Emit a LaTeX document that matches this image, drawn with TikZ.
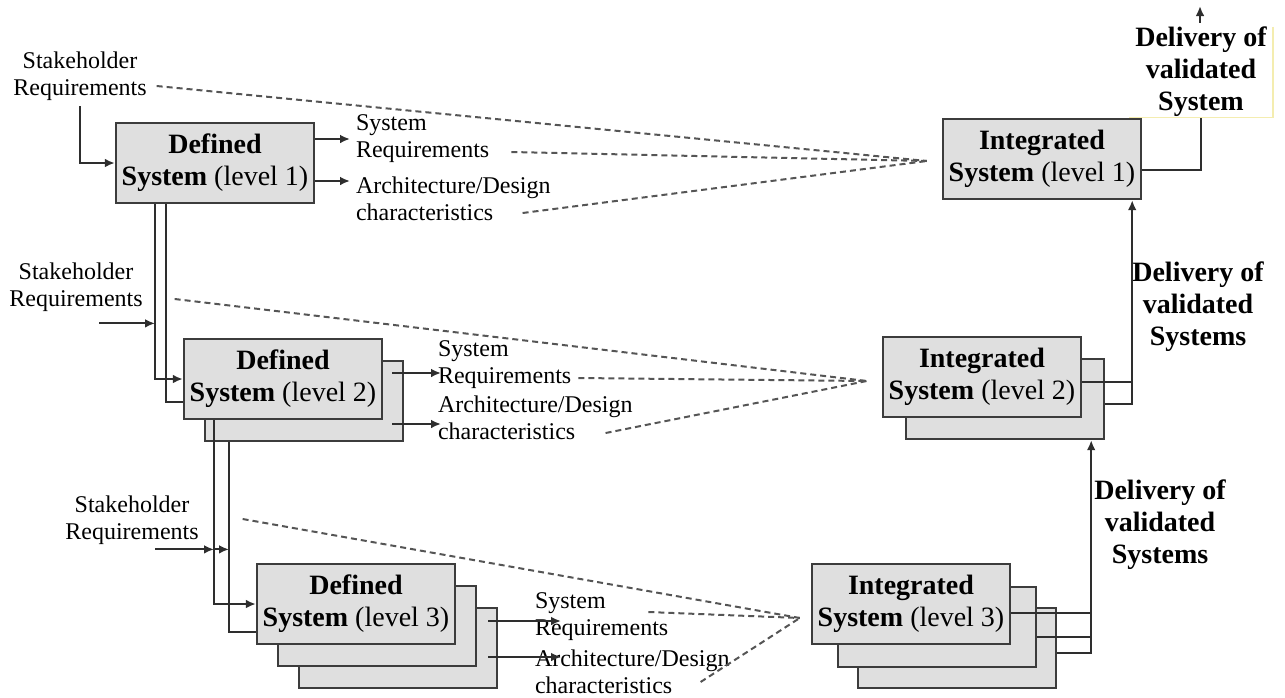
\documentclass[tikz,border=0pt]{standalone}
\usepackage{fontspec}
\setmainfont{Liberation Serif}
\usetikzlibrary{arrows.meta}
\definecolor{boxline}{HTML}{3C3C3C}
\definecolor{linegray}{HTML}{2E2E2E}
\definecolor{dashgray}{HTML}{555555}
\definecolor{paleyellow}{HTML}{F4EDB0}
\newcommand{\boxtxt}[2]{\textbf{#1}\\\textbf{System} (level #2)}
\begin{document}
\begin{tikzpicture}[x=0.5pt,y=-0.5pt,
	sysbox/.style={draw=boxline,fill=gray!25,line width=1.2pt,minimum width=99pt,minimum height=40pt,
		align=center,inner sep=0,font=\fontsize{14}{16}\selectfont},
	txt/.style={inner sep=0,outer sep=3pt,font=\fontsize{12}{13.5}\selectfont},
	dlv/.style={inner sep=0,align=center,font=\fontsize{14}{16}\selectfont\bfseries},
	conn/.style={draw=linegray,line width=1pt},
	arr/.style={conn,-{Latex[length=5pt,width=4.4pt]}},
	trace/.style={draw=dashgray,line width=1pt,dash pattern=on 3pt off 2pt}]
		\useasboundingbox (0,0) rectangle (1285,697);
		% level 1
		\node [txt,align=center] (sr1) at (80,76) {Stakeholder\\Requirements};
		\node [sysbox] (def1) at (215,163) {\boxtxt{Defined}{1}};
		\node [txt,align=left,anchor=west] (sys1) at (350,139) {System\\Requirements};
		\node [txt,align=left,anchor=west] (arc1) at (350,199) {Architecture/Design\\characteristics};
		\node [sysbox] (int1) at (1042,159) {\boxtxt{Integrated}{1}};
		\node [dlv,minimum width=71.5pt,minimum height=43pt] (del1) at (1201,72) {Delivery of\\validated\\System};
		% level 2
		\node [txt,align=center] (sr2) at (76,287) {Stakeholder\\Requirements};
		\node [sysbox] (def2b) at (304,401) {};
		\node [sysbox] (def2) at (283,379) {\boxtxt{Defined}{2}};
		\node [txt,align=left,anchor=west] (sys2) at (432,365) {System\\Requirements};
		\node [txt,align=left,anchor=west] (arc2) at (432,418) {Architecture/Design\\characteristics};
		\node [sysbox] (int2b) at (1005,399) {};
		\node [sysbox] (int2) at (982,377) {\boxtxt{Integrated}{2}};
		\node [dlv] (del2) at (1198,307) {Delivery of\\validated\\Systems};
		% level 3
		\node [txt,align=center] (sr3) at (132,520) {Stakeholder\\Requirements};
		\node [sysbox] (def3c) at (398,648) {};
		\node [sysbox] (def3b) at (377,626) {};
		\node [sysbox] (def3) at (356,604) {\boxtxt{Defined}{3}};
		\node [txt,align=left,anchor=west] (sys3) at (529,617) {System\\Requirements};
		\node [txt,align=left,anchor=west] (arc3) at (529,672) {Architecture/Design\\characteristics};
		\node [sysbox] (int3c) at (957,648) {};
		\node [sysbox] (int3b) at (937,627) {};
		\node [sysbox] (int3) at (911,604) {\boxtxt{Integrated}{3}};
		\node [dlv] (del3) at (1160,525) {Delivery of\\validated\\Systems};

		\coordinate (cv1) at ([shift={(-15,2)}]int1.west);
		\coordinate (cv2) at ([shift={(-15,4)}]int2.west);
		\coordinate (cv3) at ([shift={(-11,14)}]int3.west);
		\draw [trace] ([shift={(4,10)}]sr1.east) -- (cv1);
		\draw [trace] ([shift={(16,13)}]sys1.east) -- (cv1);
		\draw [trace] ([shift={(-34,14)}]arc1.east) -- (cv1);
		\draw [trace] ([shift={(26,12)}]sr2.east) -- (cv2);
		\draw [trace] ([shift={(1,13)}]sys2.east) -- (cv2);
		\draw [trace] ([shift={(-33,15)}]arc2.east) -- (cv2);
		\draw [trace] ([shift={(38,-1)}]sr3.east) -- (cv3);
		\draw [trace] ([shift={(-26,-5)}]sys3.east) -- (cv3);
		\draw [trace] ([shift={(-35,10)}]arc3.east) -- (cv3);

		% defined side
		\draw [arr] (sr1.south) |- (def1.west);
		\draw [arr] ([shift={(0,-24)}]def1.east) -- ([shift={(0,-24)}]def1.east -| sys1.west);
		\draw [arr] ([shift={(0,18)}]def1.east) -- ([shift={(0,18)}]def1.east -| arc1.west);
		\coordinate (a1) at ([shift={(-60,0)}]def1.south);
		\coordinate (b1) at ([shift={(-49,0)}]def1.south);
		\draw [arr] (a1) |- (def2.west);
		\draw [conn] (b1) |- ([shift={(0,23)}]def2.west);
		\draw [arr] ([shift={(23,6)}]sr2.south) coordinate (s2) -- (s2 -| a1);
		\draw [arr] ([shift={(9,-6)}]def2.east) -- ([shift={(9,-6)}]def2.east -| sys2.west);
		\draw [arr] ([shift={(9,45)}]def2.east) -- ([shift={(9,45)}]def2.east -| arc2.west);
		\coordinate (a2) at ([shift={(-69,0)}]def2.south);
		\coordinate (b2) at ([shift={(-75,0)}]def2b.south);
		\draw [arr] (a2) |- (def3.west);
		\draw [conn] (b2) |- ([shift={(0,28)}]def3.west);
		\draw [arr] ([shift={(23,-1)}]sr3.south) coordinate (s3) -- (s3 -| a2);
		\draw [arr] (s3 -| a2) -- (s3 -| b2);
		\draw [arr] ([shift={(32,17)}]def3.east) -- ([shift={(32,17)}]def3.east -| sys3.west);
		\draw [arr] ([shift={(32,53)}]def3.east) -- ([shift={(32,53)}]def3.east -| arc3.west);

		% integrated side
		\coordinate (up1) at ([shift={(-10,0)}]int1.south east);
		\coordinate (up2) at ([shift={(-14,0)}]int2b.south east);
		\coordinate (out) at (1200,6);
		\draw [conn] ([shift={(0,11)}]int1.east) -| (del1.south);
		\draw [arr] ([shift={(-1,-4)}]del1.north) -- (out);
		\draw [paleyellow,line width=0.6pt] (del1.north east) -- (del1.south east) -- (del1.south west);
		\draw [conn] ([shift={(0,5)}]int2.east) -- ([shift={(0,5)}]int2.east -| up1);
		\draw [arr] ([shift={(0,5)}]int2b.east) -| (up1);
		\draw [conn] ([shift={(0,9)}]int3.east) -- ([shift={(0,9)}]int3.east -| up2);
		\draw [conn] ([shift={(0,10)}]int3b.east) -- ([shift={(0,10)}]int3b.east -| up2);
		\draw [arr] ([shift={(0,5)}]int3c.east) -| (up2);
\end{tikzpicture}
\end{document}
